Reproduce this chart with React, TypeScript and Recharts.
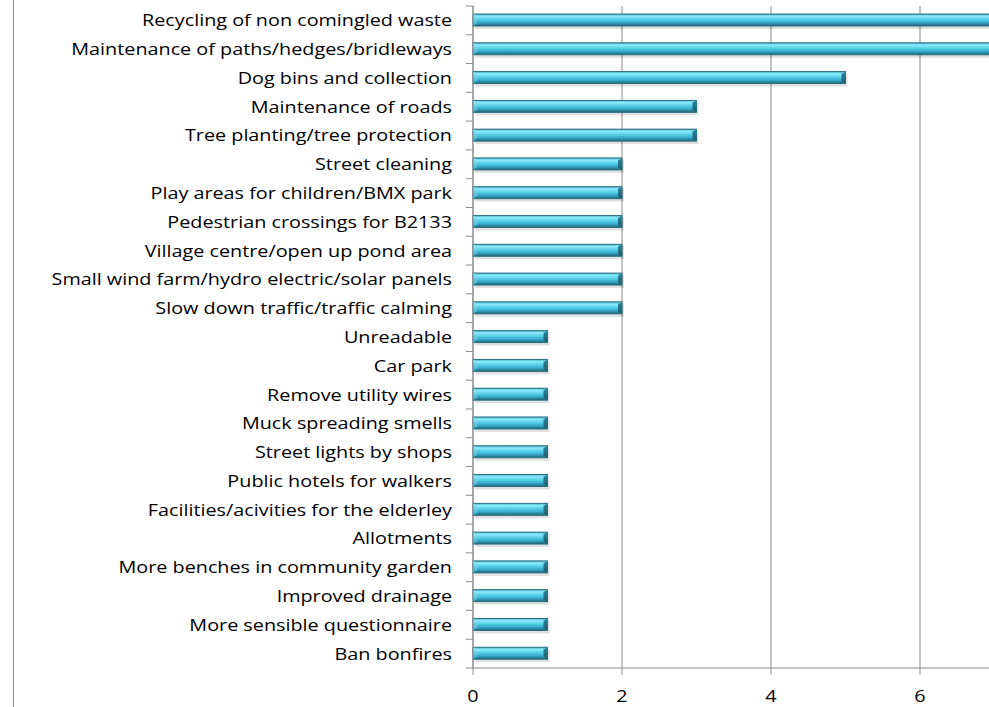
import React from "react";
import { BarChart, Bar, XAxis, YAxis, CartesianGrid } from "recharts";

const categories: string[] = [
  "Recycling of non comingled waste",
  "Maintenance of paths/hedges/bridleways",
  "Dog bins and collection",
  "Maintenance of roads",
  "Tree planting/tree protection",
  "Street cleaning",
  "Play areas for children/BMX park",
  "Pedestrian crossings for B2133",
  "Village centre/open up pond area",
  "Small wind farm/hydro electric/solar panels",
  "Slow down traffic/traffic calming",
  "Unreadable",
  "Car park",
  "Remove utility wires",
  "Muck spreading smells",
  "Street lights by shops",
  "Public hotels for walkers",
  "Facilities/acivities for the elderley",
  "Allotments",
  "More benches in community garden",
  "Improved drainage",
  "More sensible questionnaire",
  "Ban bonfires",
];

const counts: number[] = [7, 7, 5, 3, 3, 2, 2, 2, 2, 2, 2, 1, 1, 1, 1, 1, 1, 1, 1, 1, 1, 1, 1];

const xTicks: number[] = [0, 2, 4, 6];

const data = categories.map((name, i) => ({ name, value: counts[i] }));

const CHART_W = 1069;
const CHART_H = 707;
const MARGIN_TOP = 6;
const X_AXIS_H = 39;
const Y_AXIS_W = 473;
const PLOT_H = CHART_H - MARGIN_TOP - X_AXIS_H;
const BAND = PLOT_H / categories.length;
const AXIS_COLOR = "#8a8a8a";
const FONT = "'Open Sans', sans-serif";
const FONT_SIZE = 17;
const STRETCH = 1.165;

const CategoryTick = (props: any) => {
  const { x, y, payload, index } = props;
  const axisX = x + 21;
  return (
    <g>
      <line x1={axisX - 7} x2={axisX} y1={y - BAND / 2} y2={y - BAND / 2} stroke={AXIS_COLOR} strokeWidth={1} />
      {index === categories.length - 1 && (
        <line x1={axisX - 7} x2={axisX} y1={y + BAND / 2} y2={y + BAND / 2} stroke={AXIS_COLOR} strokeWidth={1} />
      )}
      <text
        transform={`translate(${x},${y}) scale(${STRETCH},1)`}
        x={0}
        y={0}
        dy="0.35em"
        textAnchor="end"
        fill="#000"
        fontSize={FONT_SIZE}
        fontFamily={FONT}
      >
        {payload.value}
      </text>
    </g>
  );
};

const NumberTick = (props: any) => {
  const { x, y, payload } = props;
  return (
    <text
      transform={`translate(${x},${y}) scale(${STRETCH},1)`}
      x={0}
      y={0}
      dy="0.71em"
      textAnchor="middle"
      fill="#000"
      fontSize={FONT_SIZE}
      fontFamily={FONT}
    >
      {payload.value}
    </text>
  );
};

const BarShape = (props: any) => {
  const { x, y, width, height } = props;
  if (!width || width <= 0) return null;
  const b = 4;
  return (
    <g>
      <rect x={x + 2} y={y + 2} width={width} height={height + 1} fill="#000" opacity={0.12} />
      <rect x={x} y={y} width={width} height={height} fill="url(#barGrad)" stroke="#24697c" strokeWidth={0.9} />
      <polygon
        points={`${x + width - b},${y + b * 0.6} ${x + width},${y} ${x + width},${y + height} ${x + width - b},${y + height - b * 0.6}`}
        fill="url(#capGrad)"
      />
      <polygon
        points={`${x},${y} ${x + b},${y + b * 0.6} ${x + b},${y + height - b * 0.6} ${x},${y + height}`}
        fill="url(#leftGrad)"
      />
    </g>
  );
};

export default function App() {
  return (
    <div style={{ position: "fixed", left: 0, top: 0, width: 989, height: 707, overflow: "hidden", background: "#fff" }}>
      <div style={{ position: "absolute", left: 13, top: 0, width: 1, height: 707, background: "#8c8c8c" }} />
      <div style={{ position: "absolute", left: 0, top: 0 }}>
        <BarChart
          width={CHART_W}
          height={CHART_H}
          data={data}
          layout="vertical"
          margin={{ top: MARGIN_TOP, right: 0, bottom: 0, left: 0 }}
          barCategoryGap={0}
        >
          <defs>
            <linearGradient id="barGrad" x1="0" y1="0" x2="0" y2="1">
              <stop offset="0%" stopColor="#3aa6c0" />
              <stop offset="18%" stopColor="#8eebfb" />
              <stop offset="45%" stopColor="#56d0eb" />
              <stop offset="72%" stopColor="#36aac6" />
              <stop offset="100%" stopColor="#1f6477" />
            </linearGradient>
            <linearGradient id="capGrad" x1="0" y1="0" x2="0" y2="1">
              <stop offset="0%" stopColor="#2b8aa2" />
              <stop offset="100%" stopColor="#1d5a6b" />
            </linearGradient>
            <linearGradient id="leftGrad" x1="0" y1="0" x2="0" y2="1">
              <stop offset="0%" stopColor="#9ff0fc" />
              <stop offset="100%" stopColor="#3aa8c4" />
            </linearGradient>
          </defs>
          <CartesianGrid horizontal={false} vertical={true} stroke={AXIS_COLOR} strokeWidth={1} />
          <XAxis
            type="number"
            domain={[0, 8]}
            ticks={xTicks}
            height={X_AXIS_H}
            axisLine={{ stroke: AXIS_COLOR }}
            tickLine={{ stroke: AXIS_COLOR }}
            tickSize={7}
            tickMargin={15}
            tick={<NumberTick />}
            interval={0}
          />
          <YAxis
            type="category"
            dataKey="name"
            width={Y_AXIS_W}
            axisLine={{ stroke: AXIS_COLOR }}
            tickLine={false}
            tickSize={7}
            tickMargin={14}
            tick={<CategoryTick />}
            interval={0}
          />
          <Bar dataKey="value" barSize={12} isAnimationActive={false} shape={<BarShape />} />
        </BarChart>
      </div>
    </div>
  );
}
